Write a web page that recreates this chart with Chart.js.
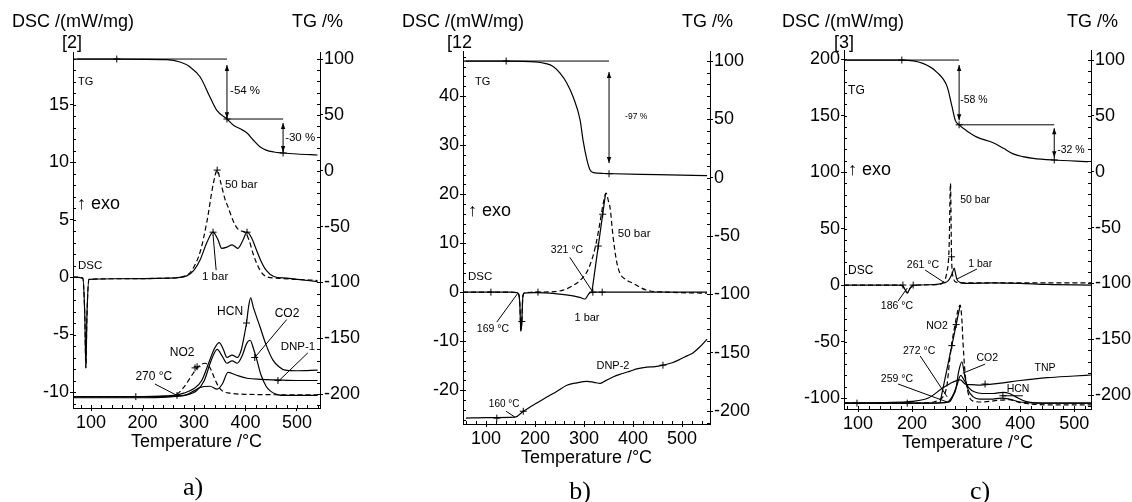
<!DOCTYPE html>
<html>
<head>
<meta charset="utf-8">
<script src="https://cdn.jsdelivr.net/npm/chart.js@4.4.1/dist/chart.umd.min.js"></script>
<style>
html, body { margin: 0; padding: 0; background: #fff; }
#wrap { position: relative; width: 1132px; height: 502px; overflow: hidden; }
canvas { position: absolute; top: 0; }
</style>
</head>
<body>
<div id="wrap">
  <canvas id="ca" width="377" height="502" style="left:0px"></canvas>
  <canvas id="cb" width="373" height="502" style="left:377px"></canvas>
  <canvas id="cc" width="382" height="502" style="left:750px"></canvas>
</div>
<script>
// ---- panel a) ----
const aTgT = [65, 150, 247, 273, 292, 312, 331, 344, 364, 376, 390, 403, 415, 428, 440, 455, 473, 500, 540];
const aTg  = [100, 100, 99.5, 97.3, 93, 83.9, 66, 54.3, 46.3, 41, 37.5, 33.8, 27.5, 21.5, 18.5, 16.8, 15.9, 15, 14.1];
const aDsc1T = [65, 84, 88, 90, 92, 96, 150, 250, 286, 300, 312, 325, 337, 346, 354, 364, 374, 385, 395, 403, 412, 420, 430, 440, 455, 480, 510, 540];
const aDsc1  = [0, -0.1, -3.5, -7.9, -3.5, -0.2, -0.15, -0.1, 0.1, 0.6, 1.5, 3.0, 3.9, 3.3, 2.5, 2.6, 2.8, 2.5, 3.2, 3.9, 3.4, 2.5, 1.4, 0.6, 0.05, -0.1, -0.25, -0.4];
const aDsc50T = [65, 84, 88, 90, 92, 96, 150, 250, 286, 300, 312, 325, 337, 345, 352, 360, 366, 375, 383, 392, 399, 407, 415, 428, 440, 460, 500, 540];
const aDsc50  = [0, -0.1, -3.5, -7.9, -3.5, -0.2, -0.15, -0.1, 0.15, 0.9, 2.2, 4.8, 8.0, 9.3, 8.2, 6.8, 6.1, 5.0, 4.3, 4.0, 3.9, 3.2, 2.0, 0.6, 0.05, -0.1, -0.2, -0.3];
const aNo2T = [65, 200, 255, 267, 280, 295, 306, 314, 321, 330, 338, 346, 355, 370, 400, 540];
const aNo2  = [-10.4, -10.4, -10.35, -10.2, -9.6, -8.6, -7.9, -7.6, -7.5, -7.8, -8.6, -9.4, -9.9, -10.1, -10.2, -10.25];
const aHcnT = [65, 200, 260, 280, 300, 315, 330, 340, 349, 357, 364, 374, 384, 392, 398, 402, 406, 410, 415, 428, 440, 453, 465, 477, 500, 540];
const aHcn  = [-10.4, -10.4, -10.3, -10.1, -9.7, -9.0, -7.3, -6.2, -5.7, -6.3, -7.0, -6.8, -7.0, -6.3, -5.0, -4.0, -2.6, -1.8, -2.6, -4.3, -5.9, -7.2, -7.8, -8.1, -8.15, -8.1];
const aCo2T = [65, 200, 270, 290, 305, 320, 333, 345, 355, 364, 374, 384, 394, 402, 409, 416, 422, 430, 440, 448, 460, 480, 540];
const aCo2  = [-10.4, -10.4, -10.35, -10.2, -9.9, -9.0, -7.3, -6.3, -6.9, -7.5, -7.3, -7.5, -6.8, -5.8, -5.5, -6.3, -7.2, -8.5, -9.5, -9.9, -10.2, -10.3, -10.3];
const aDnpT = [65, 200, 280, 300, 312, 331, 345, 355, 366, 380, 403, 430, 461, 500, 540];
const aDnp  = [-10.5, -10.5, -10.3, -9.9, -9.6, -9.5, -9.75, -9.3, -8.3, -8.5, -8.8, -8.9, -8.95, -9.0, -9.0];
const aMarkT = [337, 345, 403, 187, 267, 302, 306, 402, 418, 463];
const aMark  = [3.9, 9.3, 3.9, -10.4, -10.3, -7.9, -7.8, -4.0, -7.0, -9.0];
const aTgMarkT = [150, 364, 473];
const aTgMark  = [100, 46.3, 15.9];

// ---- panel b) ----
const bTgT = [53, 141, 200, 220, 237, 251, 265, 278, 292, 298, 306, 312, 319, 340, 450, 551];
const bTg  = [100, 100, 99.3, 98, 95.4, 89.6, 81, 69, 49.4, 32, 15, 6.9, 4.3, 3.6, 2.6, 1.7];
const bDsc1T = [53, 150, 163, 167, 169, 171, 173, 175, 178, 200, 250, 280, 295, 302, 308, 312, 320, 400, 551];
const bDsc1  = [0, 0, -0.1, -0.5, -2.5, -8, -6, -1, -0.2, -0.1, -0.4, -0.8, -1.2, -1.4, -0.6, -0.1, 0, 0, 0];
const bDsc50T = [53, 150, 163, 167, 169, 171, 173, 175, 178, 200, 240, 257, 275, 292, 305, 312, 320, 326, 333, 340, 345, 350, 353, 359, 366, 373, 385, 400, 428, 470, 551];
const bDsc50  = [0, 0, -0.1, -0.5, -2.5, -8, -6, -1, -0.2, 0, 0.1, 0.4, 1.2, 2.4, 4.0, 5.5, 8.0, 10.6, 14.5, 18.5, 20.2, 18.5, 17.3, 11.5, 6.5, 3.9, 2.6, 1.8, 0.4, 0, -0.2];
const bTanT = [316, 344];
const bTan  = [0, 20.2];
const bDnpT = [59, 100, 159, 176, 200, 224, 245, 265, 285, 306, 320, 333, 345, 359, 375, 394, 410, 428, 445, 461, 480, 496, 510, 522, 535, 551];
const bDnp  = [-25.7, -25.6, -25.5, -24.3, -22.8, -21.4, -20.2, -19.0, -18.5, -18.2, -18.4, -18.6, -18.0, -17.3, -16.7, -16.1, -15.6, -15.3, -15.2, -14.9, -14.4, -13.7, -13.0, -12.4, -11.3, -9.6];
const bMarkT = [110, 206, 337, 173, 318, 329, 338, 122, 176, 461];
const bMark  = [0, 0, 0, -6.0, 0, 9.4, 15.9, -25.7, -24.3, -14.9];
const bTgMarkT = [141, 351];
const bTgMark  = [100, 3.4];

// ---- panel c) ----
const cTgT = [74, 181, 220, 246, 265, 274, 280, 287, 300, 320, 350, 369, 387, 405, 424, 461, 526];
const cTg  = [100, 100, 97, 89, 76, 58, 46, 42, 37, 31, 26, 21, 16, 13.5, 12, 10.5, 9];
const cDsc1T = [74, 175, 182, 187, 191, 196, 202, 240, 252, 260, 266, 270, 274, 278, 280, 283, 288, 300, 350, 400, 450, 531];
const cDsc1  = [0, 0, -0.5, -4, -7, -3, -0.3, 0.3, 1, 2, 3.5, 6, 10, 15, 11, 5, 2.5, 1.5, 2, 1.5, 0.5, 0];
const cDsc50T = [74, 175, 182, 187, 191, 196, 202, 240, 255, 260, 264, 268.5, 271, 273, 276, 282, 290, 300, 400, 531];
const cDsc50  = [0, 0, -0.5, -4, -7, -3, -0.3, 0.3, 1.5, 4, 10.6, 34, 90, 25, 7, 2.5, 2, 2, 2, 2];
const cNo2T = [74, 200, 240, 250, 257, 262, 265, 270, 275, 280, 285, 289, 292, 294, 298, 304, 312, 330, 360, 380, 400, 450, 531];
const cNo2  = [-104.5, -104.5, -103.5, -101.5, -99, -94, -87, -64, -47, -33.6, -22, -17.7, -30, -49, -78, -96, -102.5, -103.5, -102, -101.5, -104, -106, -106];
const cTanT = [252, 289];
const cTan  = [-103.5, -17.7];
const cCo2T = [74, 230, 262, 270, 276, 281, 286, 292, 298, 304, 313, 325, 345, 366, 380, 400, 430, 531];
const cCo2  = [-104.5, -104.5, -104, -103, -98, -92, -77, -68, -82, -93, -99, -101, -101, -100, -101, -103.5, -104.5, -104.5];
const cHcnT = [74, 230, 265, 275, 282, 290, 296, 305, 315, 330, 350, 368, 380, 392, 410, 440, 531];
const cHcn  = [-104.5, -104.5, -103.5, -98, -90, -80, -84, -91, -94.5, -96, -96, -95, -96, -99, -103, -104.5, -104.5];
const cTnpT = [74, 150, 200, 230, 257, 275, 289, 300, 310, 326, 360, 400, 450, 500, 531];
const cTnp  = [-104.5, -104, -103, -100, -91, -86, -84, -88, -88.2, -88.5, -87, -84.5, -82, -80.5, -79.6];
const cMarkT = [183, 202, 273, 98, 191, 273.5, 281.5, 335, 368];
const cMark  = [0, 0, 25, -104.5, -104.5, -53.6, -35, -87.6, -98];
const cTgMarkT = [181, 287, 463];
const cTgMark  = [100, 42, 10.5];

const xTicks = 100;
const FONT = '"Liberation Sans", Arial, Helvetica, sans-serif';

function curve(ts, vs, axis, dashed) {
    return {
        data: ts.map((t, i) => ({ x: t, y: vs[i] })),
        yAxisID: axis,
        borderColor: '#000',
        borderWidth: 1.2,
        borderDash: dashed ? [5, 3] : [],
        pointRadius: 0,
        fill: false,
        tension: 0.4,
        cubicInterpolationMode: 'monotone'
    };
}

function straight(ts, vs, axis) {
    const d = curve(ts, vs, axis, false);
    d.tension = 0;
    d.cubicInterpolationMode = 'default';
    return d;
}

function marks(ts, vs, axis) {
    return {
        data: ts.map((t, i) => ({ x: t, y: vs[i] })),
        yAxisID: axis,
        showLine: false,
        pointStyle: 'cross',
        pointRadius: 3.5,
        pointBorderWidth: 1,
        pointBorderColor: '#000',
        borderColor: '#000'
    };
}

// text, lines and arrows drawn on top of each panel
const extras = {
    ca: {
        minor: [20, 1, 10],
        texts: [
            ['DSC /(mW/mg)', 12, 22, 18, 'left'],
            ['[2]', 72, 43, 18, 'center'],
            ['TG /%', 343, 22, 18, 'right'],
            ['a)', 193, 488, 26, 'center', true]
        ],
        notes: [
            ['TG', 74.8, 79.4, 'y1', 11, 'left'],
            ['-54 %', 370, 71.4, 'y1', 11.5, 'left'],
            ['-30 %', 477, 29.3, 'y1', 11.5, 'left'],
            ['\u2191 exo', 72.8, 6.35, 'y', 18, 'left'],
            ['50 bar', 360, 8.0, 'y', 11.5, 'left'],
            ['1 bar', 341, 0, 'y', 11.5, 'center'],
            ['DSC', 74.8, 0.96, 'y', 11.5, 'left'],
            ['270 \u00b0C', 222, -8.7, 'y', 12, 'center'],
            ['NO2', 277, -6.6, 'y', 12, 'center'],
            ['HCN', 370, -3.0, 'y', 12, 'center'],
            ['CO2', 480.6, -3.2, 'y', 12, 'center'],
            ['DNP-1', 502, -6.1, 'y', 11.5, 'center']
        ],
        lines: [
            [73, 100, 364, 100, 'y1'],
            [364, 46.3, 473, 46.3, 'y1'],
            [337, 3.65, 343, 0.6, 'y'],
            [224, -9.3, 267, -10.3, 'y'],
            [480, -3.7, 418, -7.0, 'y'],
            [521, -6.6, 463, -9.1, 'y']
        ],
        arrows: [
            [364, 94.6, 47, 'y1'],
            [473, 42.7, 16.7, 'y1']
        ]
    },
    cb: {
        minor: [20, 2, 10],
        texts: [
            ['DSC /(mW/mg)', 25, 22, 18, 'left'],
            ['[12', 70, 43, 18, 'left'],
            ['TG /%', 356, 22, 18, 'right'],
            ['b)', 203, 492, 26, 'center', true]
        ],
        notes: [
            ['TG', 77.6, 82, 'y1', 11, 'left'],
            ['-97 %', 383.7, 52, 'y1', 8.5, 'left'],
            ['\u2191 exo', 63, 16.5, 'y', 18, 'left'],
            ['DSC', 63, 3.06, 'y', 11.5, 'left'],
            ['50 bar', 369, 12, 'y', 11.5, 'left'],
            ['321 \u00b0C', 265, 8.6, 'y', 10.5, 'center'],
            ['169 \u00b0C', 114, -7.55, 'y', 10.5, 'center'],
            ['1 bar', 306, -5.3, 'y', 11, 'center'],
            ['DNP-2', 359, -15.1, 'y', 11, 'center'],
            ['160 \u00b0C', 137, -22.9, 'y', 10, 'center']
        ],
        lines: [
            [59, 100, 351, 100, 'y1'],
            [271, 7.1, 318, 0, 'y'],
            [122, -6.1, 165, -0.2, 'y'],
            [141, -24.3, 159, -25.5, 'y']
        ],
        arrows: [
            [351, 90.6, 12.6, 'y1']
        ]
    },
    cc: {
        minor: [20, 10, 10],
        texts: [
            ['DSC /(mW/mg)', 32, 22, 18, 'left'],
            ['[3]', 94, 43, 18, 'center'],
            ['TG /%', 368, 22, 18, 'right'],
            ['c)', 230, 492, 26, 'center', true]
        ],
        notes: [
            ['TG', 81.5, 73, 'y1', 12, 'left'],
            ['-58 %', 289, 64, 'y1', 10.5, 'left'],
            ['-32 %', 468.5, 19.4, 'y1', 10.5, 'left'],
            ['\u2191 exo', 81.5, 101.8, 'y', 18, 'left'],
            ['50 bar', 289, 75, 'y', 10.5, 'left'],
            ['DSC', 81.5, 12.4, 'y', 12, 'left'],
            ['261 \u00b0C', 220, 17.7, 'y', 10.5, 'center'],
            ['1 bar', 326, 18.6, 'y', 10.5, 'center'],
            ['186 \u00b0C', 172, -18.6, 'y', 10.5, 'center'],
            ['NO2', 246, -36.3, 'y', 10.5, 'center'],
            ['272 \u00b0C', 213, -58.4, 'y', 10.5, 'center'],
            ['CO2', 339, -64.6, 'y', 10.5, 'center'],
            ['259 \u00b0C', 172, -83.2, 'y', 10.5, 'center'],
            ['TNP', 446, -73.5, 'y', 10.5, 'center'],
            ['HCN', 396, -92, 'y', 10.5, 'center']
        ],
        lines: [
            [80, 100, 287, 100, 'y1'],
            [287, 42, 463, 42, 'y1'],
            [224, 13.3, 261, 1.8, 'y'],
            [320, 14.2, 283, 5.3, 'y'],
            [174, -14.2, 191, -2.7, 'y'],
            [215, -62.8, 265, -99, 'y'],
            [335, -70, 294, -78, 'y'],
            [174, -87.6, 265, -103.5, 'y'],
            [367, -98, 405, -98, 'y']
        ],
        arrows: [
            [287, 95.5, 46, 'y1'],
            [463, 39, 13, 'y1']
        ]
    }
};

const extrasPlugin = {
    id: 'extras',
    afterDraw(chart) {
        const ex = extras[chart.canvas.id];
        const ctx = chart.ctx;
        const ca = chart.chartArea;
        const sx = chart.scales.x;
        const X = v => sx.getPixelForValue(v);
        const Y = (v, ax) => chart.scales[ax].getPixelForValue(v);
        ctx.save();
        ctx.strokeStyle = '#000';
        ctx.fillStyle = '#000';
        ctx.lineWidth = 1;

        // small inner ticks
        ctx.beginPath();
        for (let v = Math.ceil(sx.min / ex.minor[0]) * ex.minor[0]; v <= sx.max; v += ex.minor[0]) {
            const p = Math.round(X(v)) + 0.5;
            ctx.moveTo(p, ca.bottom); ctx.lineTo(p, ca.bottom - 3);
        }
        const sy = chart.scales.y;
        for (let v = Math.ceil(sy.min / ex.minor[1]) * ex.minor[1]; v <= sy.max; v += ex.minor[1]) {
            const p = Math.round(sy.getPixelForValue(v)) + 0.5;
            ctx.moveTo(ca.left, p); ctx.lineTo(ca.left + 3, p);
        }
        const sy1 = chart.scales.y1;
        for (let v = Math.ceil(sy1.min / ex.minor[2]) * ex.minor[2]; v <= sy1.max; v += ex.minor[2]) {
            const p = Math.round(sy1.getPixelForValue(v)) + 0.5;
            ctx.moveTo(ca.right, p); ctx.lineTo(ca.right - 3, p);
        }
        ctx.stroke();

        ex.lines.forEach(l => {
            ctx.beginPath();
            ctx.moveTo(X(l[0]), Y(l[1], l[4]));
            ctx.lineTo(X(l[2]), Y(l[3], l[4]));
            ctx.stroke();
        });

        ex.arrows.forEach(a => {
            const x = X(a[0]);
            const top = Y(a[1], a[3]);
            const bot = Y(a[2], a[3]);
            ctx.beginPath();
            ctx.moveTo(x, top); ctx.lineTo(x, bot);
            ctx.stroke();
            ctx.beginPath();
            ctx.moveTo(x, top); ctx.lineTo(x - 2.2, top + 6); ctx.lineTo(x + 2.2, top + 6); ctx.closePath();
            ctx.moveTo(x, bot); ctx.lineTo(x - 2.2, bot - 6); ctx.lineTo(x + 2.2, bot - 6); ctx.closePath();
            ctx.fill();
        });

        ctx.textBaseline = 'middle';
        ex.notes.forEach(n => {
            ctx.font = n[4] + 'px ' + FONT;
            ctx.textAlign = n[5];
            ctx.fillText(n[0], X(n[1]), Y(n[2], n[3]));
        });

        ex.texts.forEach(t => {
            ctx.font = t[3] + 'px ' + (t[5] ? '"Liberation Serif", "Times New Roman", serif' : FONT);
            ctx.textAlign = t[4];
            ctx.fillText(t[0], t[1], t[2]);
        });

        ctx.font = '18px ' + FONT;
        ctx.textAlign = 'center';
        ctx.fillText('Temperature /\u00b0C', (ca.left + ca.right) / 2, ca.bottom + 34);
        ctx.restore();
    }
};

function axis(pos, min, max, step, fit) {
    return {
        type: 'linear',
        position: pos,
        min: min,
        max: max,
        ticks: {
            stepSize: step,
            includeBounds: false,
            autoSkip: false,
            maxRotation: 0,
            color: '#000',
            padding: 1,
            font: { family: FONT, size: 18 }
        },
        grid: { drawOnChartArea: false, color: '#000', tickLength: 3, lineWidth: 1 },
        border: { color: '#000', width: 1 },
        // keep only round multiples of the step
        afterBuildTicks: s => {
            const out = [];
            for (let v = Math.ceil(min / step) * step; v <= max + 1e-9; v += step) out.push({ value: v });
            s.ticks = out;
        },
        afterFit: fit
    };
}

function makeChart(id, p) {
    return new Chart(document.getElementById(id), {
        type: 'line',
        data: { datasets: p.datasets },
        options: {
            responsive: false,
            animation: false,
            layout: { padding: { top: p.top, left: 0, right: 0, bottom: 0 } },
            plugins: { legend: { display: false }, tooltip: { enabled: false } },
            scales: {
                x: axis('bottom', p.x[0], p.x[1], xTicks, s => { s.height = p.xH; }),
                y: axis('left', p.y[0], p.y[1], p.y[2], s => { s.width = p.yW; }),
                y1: axis('right', p.y1[0], p.y1[1], 50, s => { s.width = p.y1W; })
            }
        },
        plugins: [extrasPlugin]
    });
}

makeChart('ca', {
    top: 52, xH: 94, yW: 73, y1W: 57,
    x: [65, 544.7], y: [-11.39, 19.57, 5], y1: [-212.4, 106.3],
    datasets: [
        curve(aTgT, aTg, 'y1', false),
        curve(aDsc1T, aDsc1, 'y', false),
        curve(aDsc50T, aDsc50, 'y', true),
        curve(aNo2T, aNo2, 'y', true),
        curve(aHcnT, aHcn, 'y', false),
        curve(aCo2T, aCo2, 'y', false),
        curve(aDnpT, aDnp, 'y', false),
        marks(aMarkT, aMark, 'y'),
        marks(aTgMarkT, aTgMark, 'y1')
    ]
});

makeChart('cb', {
    top: 51, xH: 78, yW: 86, y1W: 40,
    x: [53, 557], y: [-26.9, 49.2, 10], y1: [-211.1, 108.6],
    datasets: [
        curve(bTgT, bTg, 'y1', false),
        curve(bDsc1T, bDsc1, 'y', false),
        curve(bDsc50T, bDsc50, 'y', true),
        straight(bTanT, bTan, 'y'),
        curve(bDnpT, bDnp, 'y', false),
        marks(bMarkT, bMark, 'y'),
        marks(bTgMarkT, bTgMark, 'y1')
    ]
});

makeChart('cc', {
    top: 50, xH: 93, yW: 94, y1W: 41,
    x: [74, 531], y: [-109.7, 208, 50], y1: [-212.5, 109],
    datasets: [
        curve(cTgT, cTg, 'y1', false),
        curve(cDsc1T, cDsc1, 'y', false),
        curve(cDsc50T, cDsc50, 'y', true),
        curve(cNo2T, cNo2, 'y', true),
        straight(cTanT, cTan, 'y'),
        curve(cCo2T, cCo2, 'y', false),
        curve(cHcnT, cHcn, 'y', false),
        curve(cTnpT, cTnp, 'y', false),
        marks(cMarkT, cMark, 'y'),
        marks(cTgMarkT, cTgMark, 'y1')
    ]
});
</script>
</body>
</html>
